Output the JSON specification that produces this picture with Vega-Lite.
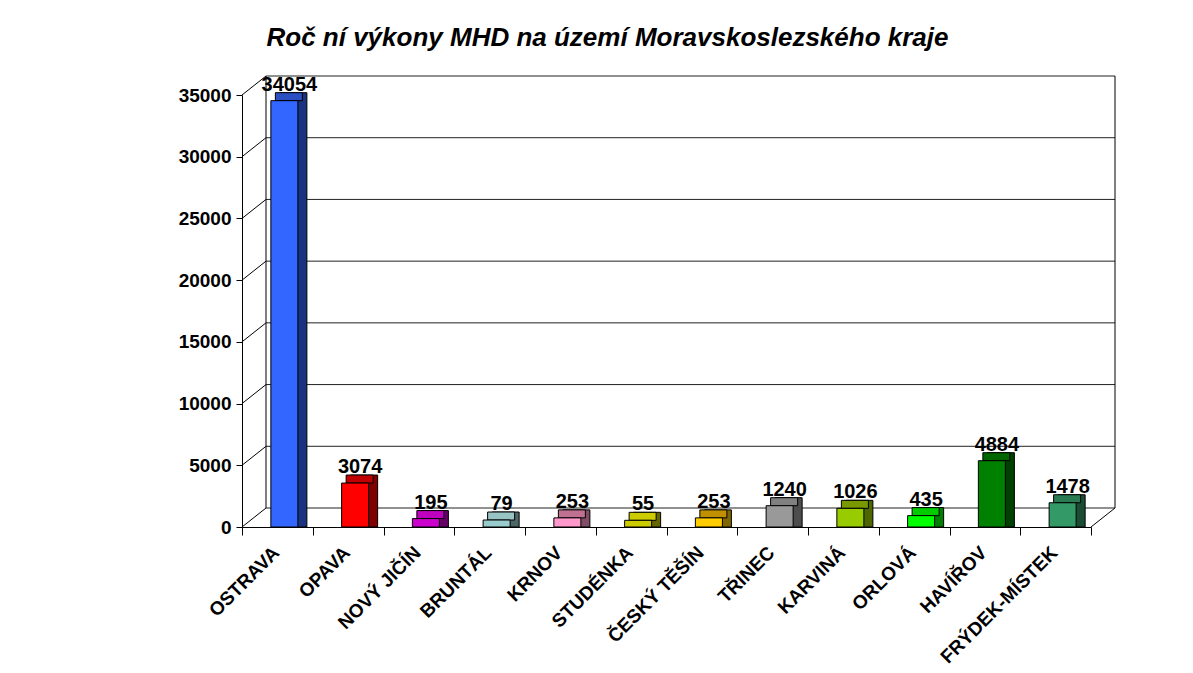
{
  "$schema": "https://vega.github.io/schema/vega-lite/v6.json",
  "width": 849,
  "height": 432,
  "autosize": {"type": "none"},
  "padding": {"left": 242, "top": 95, "right": 102, "bottom": 146},
  "background": "white",
  "title": {
    "text": "Roč ní výkony MHD na území Moravskoslezského kraje",
    "font": "Liberation Sans",
    "fontSize": 26,
    "fontWeight": "bold",
    "fontStyle": "italic",
    "color": "black",
    "anchor": "middle",
    "dx": -59,
    "offset": 24
  },
  "config": {
    "view": {"stroke": null},
    "font": "Liberation Sans",
    "axisY": {
      "labelFont": "Liberation Sans", "labelFontSize": 19, "labelFontWeight": "bold", "labelColor": "black",
      "tickColor": "black", "tickSize": 6, "domainColor": "black", "labelPadding": 5, "grid": false
    }
  },
  "datasets": {
    "d": [
      {"city": "OSTRAVA", "v": 34054},
      {"city": "OPAVA", "v": 3074},
      {"city": "NOVÝ JIČÍN", "v": 195},
      {"city": "BRUNTÁL", "v": 79},
      {"city": "KRNOV", "v": 253},
      {"city": "STUDÉNKA", "v": 55},
      {"city": "ČESKÝ TĚŠÍN", "v": 253},
      {"city": "TŘINEC", "v": 1240},
      {"city": "KARVINÁ", "v": 1026},
      {"city": "ORLOVÁ", "v": 435},
      {"city": "HAVÍŘOV", "v": 4884},
      {"city": "FRÝDEK-MÍSTEK", "v": 1478}
    ],
    "g": [
      {"g": 0}, {"g": 5000}, {"g": 10000}, {"g": 15000},
      {"g": 20000}, {"g": 25000}, {"g": 30000}, {"g": 35000}
    ],
    "one": [{"k": 1}]
  },
  "data": {"name": "d"},
  "resolve": {"scale": {"x": "independent", "color": "independent"}},
  "layer": [
    {
      "data": {"name": "g"},
      "mark": {"type": "rule", "color": "#222222", "strokeWidth": 1, "xOffset": 24, "x2Offset": 24, "yOffset": -19},
      "encoding": {
        "x": {"datum": 0, "type": "quantitative", "scale": {"domain": [0, 1]}, "axis": null},
        "x2": {"datum": 1},
        "y": {
          "field": "g", "type": "quantitative",
          "scale": {"domain": [0, 35000], "nice": false},
          "axis": {
            "title": null,
            "values": [0, 5000, 10000, 15000, 20000, 25000, 30000, 35000],
            "format": "d"
          }
        }
      }
    },
    {
      "data": {"name": "g"},
      "mark": {"type": "rule", "color": "black", "strokeWidth": 1, "x2Offset": 24, "y2Offset": -19},
      "encoding": {
        "x": {"datum": 0, "type": "quantitative", "scale": {"domain": [0, 1]}, "axis": null},
        "x2": {"datum": 0},
        "y": {"field": "g", "type": "quantitative", "axis": {"title": null, "values": [0, 5000, 10000, 15000, 20000, 25000, 30000, 35000], "format": "d"}},
        "y2": {"field": "g"}
      }
    },
    {
      "data": {"name": "one"},
      "mark": {"type": "rule", "color": "black", "strokeWidth": 1, "xOffset": 24, "yOffset": -19, "y2Offset": -19},
      "encoding": {
        "x": {"datum": 0, "type": "quantitative", "scale": {"domain": [0, 1]}, "axis": null},
        "y": {"datum": 0, "type": "quantitative", "axis": {"title": null, "values": [0, 5000, 10000, 15000, 20000, 25000, 30000, 35000], "format": "d"}},
        "y2": {"datum": 35000}
      }
    },
    {
      "data": {"name": "one"},
      "mark": {"type": "rule", "color": "black", "strokeWidth": 1, "xOffset": 24, "yOffset": -19, "y2Offset": -19},
      "encoding": {
        "x": {"datum": 1, "type": "quantitative", "scale": {"domain": [0, 1]}, "axis": null},
        "y": {"datum": 0, "type": "quantitative", "axis": {"title": null, "values": [0, 5000, 10000, 15000, 20000, 25000, 30000, 35000], "format": "d"}},
        "y2": {"datum": 35000}
      }
    },
    {
      "data": {"name": "one"},
      "mark": {"type": "rule", "color": "black", "strokeWidth": 1, "x2Offset": 24, "y2Offset": -19},
      "encoding": {
        "x": {"datum": 1, "type": "quantitative", "scale": {"domain": [0, 1]}, "axis": null},
        "x2": {"datum": 1},
        "y": {"datum": 0, "type": "quantitative", "axis": {"title": null, "values": [0, 5000, 10000, 15000, 20000, 25000, 30000, 35000], "format": "d"}},
        "y2": {"datum": 0}
      }
    },
    {
      "mark": {"type": "bar", "width": {"band": 0.382}, "xOffset": 16, "yOffset": -14, "y2Offset": -14, "stroke": "black", "strokeWidth": 1},
      "encoding": {
        "x": {"field": "city", "type": "nominal", "sort": null, "scale": {"paddingInner": 0, "paddingOuter": 0}, "axis": null},
        "y": {"field": "v", "type": "quantitative", "stack": null, "axis": {"title": null, "values": [0, 5000, 10000, 15000, 20000, 25000, 30000, 35000], "format": "d"}},
        "color": {
          "field": "city", "type": "nominal", "legend": null,
          "scale": {
            "domain": ["OSTRAVA", "OPAVA", "NOVÝ JIČÍN", "BRUNTÁL", "KRNOV", "STUDÉNKA", "ČESKÝ TĚŠÍN", "TŘINEC", "KARVINÁ", "ORLOVÁ", "HAVÍŘOV", "FRÝDEK-MÍSTEK"],
            "range": ["#1a3380", "#800000", "#660066", "#4d6666", "#804d66", "#666600", "#806600", "#4d4d4d", "#4d6600", "#008000", "#004000", "#1a4d33"]
          }
        }
      }
    },
    {
      "mark": {"type": "bar", "width": {"band": 0.382}, "xOffset": 11.5, "yOffset": -14, "y2Offset": -6, "stroke": "black", "strokeWidth": 1},
      "encoding": {
        "x": {"field": "city", "type": "nominal", "sort": null, "scale": {"paddingInner": 0, "paddingOuter": 0}, "axis": null},
        "y": {"field": "v", "type": "quantitative", "stack": null, "axis": {"title": null, "values": [0, 5000, 10000, 15000, 20000, 25000, 30000, 35000], "format": "d"}},
        "y2": {"field": "v"},
        "color": {
          "field": "city", "type": "nominal", "legend": null,
          "scale": {
            "domain": ["OSTRAVA", "OPAVA", "NOVÝ JIČÍN", "BRUNTÁL", "KRNOV", "STUDÉNKA", "ČESKÝ TĚŠÍN", "TŘINEC", "KARVINÁ", "ORLOVÁ", "HAVÍŘOV", "FRÝDEK-MÍSTEK"],
            "range": ["#2a4fc0", "#c00000", "#c000c0", "#99c4c4", "#c07090", "#cccc00", "#c09000", "#808080", "#7a9900", "#00cc00", "#006600", "#2a7a52"]
          }
        }
      }
    },
    {
      "mark": {"type": "bar", "width": {"band": 0.382}, "xOffset": 7, "yOffset": -6, "y2Offset": -6, "stroke": "black", "strokeWidth": 1},
      "encoding": {
        "x": {
          "field": "city", "type": "nominal", "sort": null,
          "scale": {"paddingInner": 0, "paddingOuter": 0},
          "axis": {
            "title": null, "labelAngle": -45, "labelAlign": "right", "labelBaseline": "top",
            "labelFont": "Liberation Sans", "labelFontSize": 19, "labelFontWeight": "bold", "labelColor": "black",
            "tickBand": "extent", "tickSize": 8, "tickColor": "black", "domainColor": "black", "labelPadding": 8, "labelOffset": -8
          }
        },
        "y": {"field": "v", "type": "quantitative", "stack": null, "axis": {"title": null, "values": [0, 5000, 10000, 15000, 20000, 25000, 30000, 35000], "format": "d"}},
        "color": {
          "field": "city", "type": "nominal", "legend": null,
          "scale": {
            "domain": ["OSTRAVA", "OPAVA", "NOVÝ JIČÍN", "BRUNTÁL", "KRNOV", "STUDÉNKA", "ČESKÝ TĚŠÍN", "TŘINEC", "KARVINÁ", "ORLOVÁ", "HAVÍŘOV", "FRÝDEK-MÍSTEK"],
            "range": ["#3366ff", "#ff0000", "#cc00cc", "#99cccc", "#ff99cc", "#cccc00", "#ffcc00", "#999999", "#99cc00", "#00ff00", "#008000", "#339966"]
          }
        }
      }
    },
    {
      "mark": {"type": "text", "xOffset": 12, "dy": -16, "baseline": "alphabetic", "align": "center", "font": "Liberation Sans", "fontSize": 20, "fontWeight": "bold", "color": "black"},
      "encoding": {
        "x": {"field": "city", "type": "nominal", "sort": null, "scale": {"paddingInner": 0, "paddingOuter": 0}, "axis": null},
        "y": {"field": "v", "type": "quantitative", "axis": {"title": null, "values": [0, 5000, 10000, 15000, 20000, 25000, 30000, 35000], "format": "d"}},
        "text": {"field": "v", "type": "quantitative", "format": "d"}
      }
    }
  ]
}
